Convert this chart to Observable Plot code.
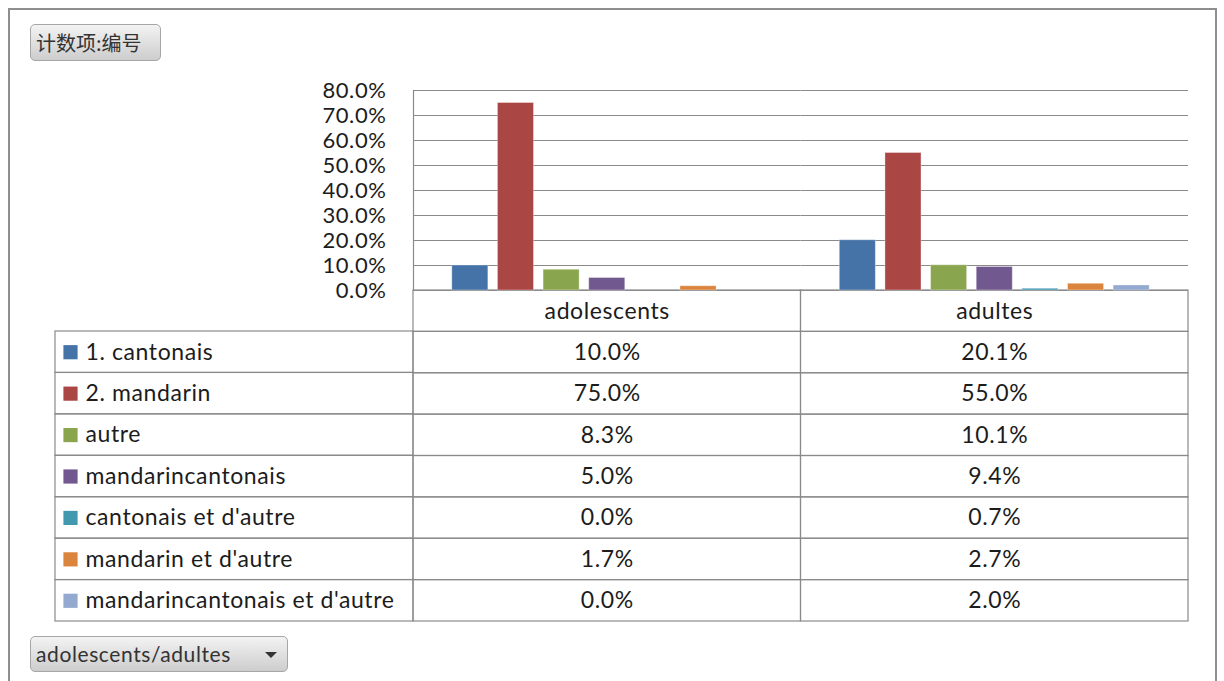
<!DOCTYPE html>
<html>
<head>
<meta charset="utf-8">
<script src="https://cdn.jsdelivr.net/npm/d3@7"></script>
<script src="https://cdn.jsdelivr.net/npm/@observablehq/plot@0.6"></script>
<style>
  html, body { margin: 0; padding: 0; background: #fff; }
  #root { position: relative; width: 1224px; height: 681px; overflow: hidden; font-family: Lato, "Noto Sans CJK SC", sans-serif; }
  #border { position: absolute; left: 8px; top: 8px; width: 1209px; height: 700px; border: 2px solid #8e8e8e; box-sizing: border-box; }
  .btn { position: absolute; box-sizing: border-box; border: 1px solid #a6a6a6; border-radius: 5px;
         background: linear-gradient(#f3f3f3, #cdcdcd); color: #333; white-space: nowrap; }
  #btn1 { left: 30px; top: 24px; width: 131px; height: 37px; line-height: 35px; padding-left: 5px;
          font-family: "Noto Sans CJK SC", Lato, sans-serif; font-size: 20px; }
  #btn2 { left: 30px; top: 636px; width: 258px; height: 36px; line-height: 34px; padding-left: 5px;
          font-family: Lato, sans-serif; font-size: 21px; letter-spacing: 0.6px; }
  #btn2 .arrow { position: absolute; left: 234px; top: 15px; width: 0; height: 0;
                 border-left: 6px solid transparent; border-right: 6px solid transparent; border-top: 6px solid #333; }
  .layer { position: absolute; line-height: 0; }
  .layer svg { display: block; max-width: none; }
</style>
</head>
<body>
<div id="root">
  <div id="border"></div>
  <div class="btn" id="btn1"></div>
  <div class="btn" id="btn2"><span id="btn2text"></span><span class="arrow"></span></div>
  <div class="layer" id="table" style="left:0;top:290px"></div>
  <div class="layer" id="labels" style="left:55px;top:331px"></div>
  <div class="layer" id="chart" style="left:0;top:0"></div>
</div>
<script>
const fieldButton = "计数项:编号";
const axisButton = "adolescents/adultes";
const groups = ["adolescents", "adultes"];
const series = ["1. cantonais", "2. mandarin", "autre", "mandarincantonais", "cantonais et d'autre", "mandarin et d'autre", "mandarincantonais et d'autre"];
const colors = ["#4572A7", "#AA4643", "#89A54E", "#71588F", "#4198AF", "#DB843D", "#93A9CF"];
const adolescents = [0.100, 0.750, 0.083, 0.050, 0.000, 0.017, 0.000];
const adultes = [0.201, 0.550, 0.101, 0.094, 0.007, 0.027, 0.020];
const yTicks = [0, 0.1, 0.2, 0.3, 0.4, 0.5, 0.6, 0.7, 0.8];

document.getElementById("btn1").textContent = fieldButton;
document.getElementById("btn2text").textContent = axisButton;

const valuesByGroup = {adolescents, adultes};
const data = [];
for (const g of groups) series.forEach((s, i) => data.push({group: g, series: s, value: valuesByGroup[g][i]}));

const fmt = d3.format(".1%");
const gridColor = "#8a8a8a";
const textColor = "#1c1c1c";
const baseStyle = {fontFamily: "Lato, sans-serif", fontSize: "23px", letterSpacing: "0.6px", color: textColor, background: "transparent", overflow: "visible"};

// Bar chart
const chart = Plot.plot({
  width: 1224, height: 291,
  marginTop: 90, marginBottom: 1, marginLeft: 413, marginRight: 36,
  style: baseStyle,
  fx: {domain: groups, padding: 0, axis: null, round: false},
  x: {domain: series, paddingInner: 0.21, paddingOuter: 0.85, axis: null, round: false},
  y: {domain: [0, 0.8], axis: null},
  color: {domain: series, range: colors},
  marks: [
    Plot.gridY(yTicks, {stroke: gridColor, strokeOpacity: 1, strokeWidth: 1.2}),
    Plot.frame({anchor: "left", stroke: gridColor, strokeWidth: 1.2, fx: ["adolescents"]}),
    Plot.axisY(yTicks, {tickFormat: ".1%", tickSize: 0, tickPadding: 27, fontSize: 22, fill: textColor, label: null}),
    Plot.barY(data, {fx: "group", x: "series", y: "value", fill: "series", stroke: "#ffffff", strokeOpacity: 0.35, strokeWidth: 1})
  ]
});
document.getElementById("chart").appendChild(chart);

// Data table (header + values)
const rowKeys = ["__header", ...series];
const cells = [];
for (const g of groups) {
  cells.push({group: g, row: "__header", text: g});
  series.forEach((s, i) => cells.push({group: g, row: s, text: fmt(valuesByGroup[g][i])}));
}
const table = Plot.plot({
  width: 1224, height: 332,
  marginTop: 0, marginBottom: 1, marginLeft: 413, marginRight: 36,
  style: baseStyle,
  fx: {domain: groups, padding: 0, axis: null, round: false},
  y: {domain: rowKeys, padding: 0, axis: null, round: false},
  marks: [
    Plot.cell(cells, {fx: "group", y: "row", fill: "none", stroke: gridColor, strokeWidth: 1.2, inset: 0}),
    Plot.text(cells, {fx: "group", y: "row", text: "text", fontSize: 23, fill: textColor})
  ]
});
document.getElementById("table").appendChild(table);

// Legend column of the data table
const labels = Plot.plot({
  width: 359, height: 291,
  marginTop: 0, marginBottom: 1, marginLeft: 0, marginRight: 1,
  style: baseStyle,
  y: {domain: series, padding: 0, axis: null, round: false},
  color: {domain: series, range: colors},
  marks: [
    Plot.cell(series, {y: d => d, fill: "none", stroke: gridColor, strokeWidth: 1.2, inset: 0}),
    Plot.dot(series, {y: d => d, frameAnchor: "left", dx: 15, symbol: "square", r: 8, fill: d => d, stroke: "none"}),
    Plot.text(series, {y: d => d, text: d => d, frameAnchor: "left", dx: 30, textAnchor: "start", fontSize: 23, fill: textColor})
  ]
});
document.getElementById("labels").appendChild(labels);
</script>
</body>
</html>
